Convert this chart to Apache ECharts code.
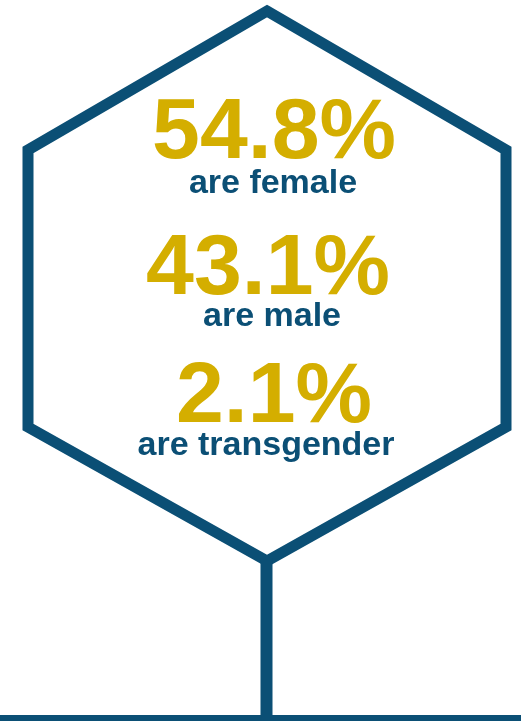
<!DOCTYPE html>
<html>
<head>
<meta charset="utf-8">
<script src="https://cdn.jsdelivr.net/npm/echarts@6/dist/echarts.min.js"></script>
<style>
html,body{margin:0;padding:0;background:#fff;}
#chart{width:521px;height:721px;}
</style>
</head>
<body>
<div id="chart"></div>
<script>
// Data
var percentages = [54.8, 43.1, 2.1];
var labels = ['are female', 'are male', 'are transgender'];

// Layout (not data)
var BLUE = '#0b4f75';
var GOLD = '#d4ae00';
var FONT = '"Liberation Sans", Arial, Helvetica, sans-serif';
var numPos = [[274, 134.5], [268, 270], [274, 398]];
var labPos = [[273, 184], [272, 317], [266, 446]];

var elements = [];
elements.push({
  type: 'polygon',
  shape: { points: [[267, 11], [506, 150], [506, 427], [267, 561], [28, 427], [28, 150]] },
  style: { fill: 'none', stroke: BLUE, lineWidth: 11, lineJoin: 'miter' },
  z: 1
});
elements.push({
  type: 'line',
  shape: { x1: 266.5, y1: 558, x2: 266.5, y2: 721 },
  style: { stroke: BLUE, lineWidth: 12 },
  z: 1
});
elements.push({
  type: 'rect',
  shape: { x: 0, y: 715, width: 521, height: 6 },
  style: { fill: BLUE },
  z: 1
});
percentages.forEach(function (v, i) {
  elements.push({
    type: 'text',
    x: numPos[i][0], y: numPos[i][1],
    style: {
      text: v.toFixed(1) + '%',
      fill: GOLD,
      font: 'bold 86px ' + FONT,
      align: 'center',
      verticalAlign: 'middle'
    },
    z: 2
  });
  elements.push({
    type: 'text',
    x: labPos[i][0], y: labPos[i][1],
    style: {
      text: labels[i],
      fill: BLUE,
      font: 'bold 34px ' + FONT,
      align: 'center',
      verticalAlign: 'middle'
    },
    z: 2
  });
});

var chart = echarts.init(document.getElementById('chart'), null, { renderer: 'canvas' });
chart.setOption({
  animation: false,
  backgroundColor: '#ffffff',
  graphic: { elements: elements }
});
</script>
</body>
</html>
